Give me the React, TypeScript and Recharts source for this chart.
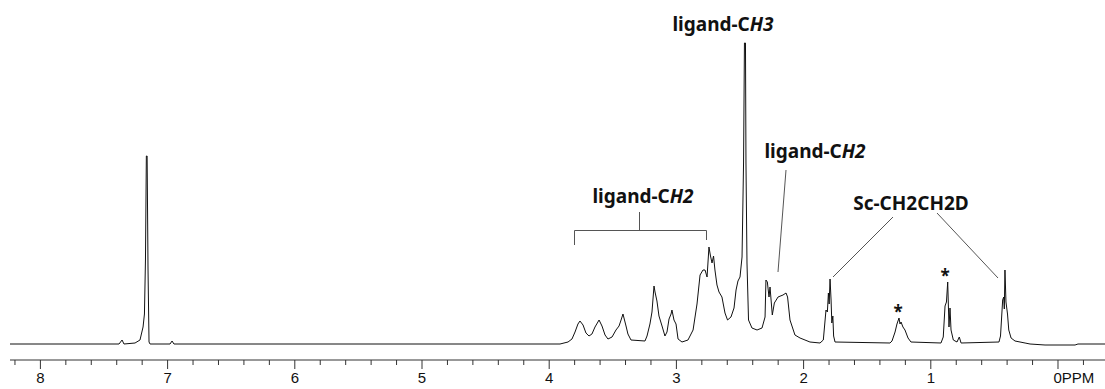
import { LineChart, Line, XAxis, YAxis } from 'recharts';

const benzenePpm = [8.239, 7.382, 7.358, 7.343, 7.256, 7.217, 7.193, 7.182, 7.174, 7.167, 7.161, 7.154, 7.146, 7.138, 6.981, 6.965, 6.95];
const benzeneInt = [0, 0, 4, 0, 1, 4, 17, 30, 84, 188, 188, 76, 2, 0, 0, 3, 0];

const ligandPpm = [
  3.915, 3.852, 3.821, 3.797, 3.774, 3.758, 3.734, 3.711, 3.687, 3.664, 3.64, 3.608, 3.585, 3.561, 3.538,
  3.506, 3.475, 3.451, 3.435, 3.42, 3.412, 3.396, 3.381, 3.357, 3.247, 3.231, 3.208, 3.192, 3.176, 3.168,
  3.153, 3.137, 3.113, 3.09, 3.074, 3.058, 3.042, 3.035, 3.019, 3.003, 2.987, 2.956, 2.909, 2.869, 2.838,
  2.814, 2.791, 2.775, 2.759, 2.744, 2.732, 2.72, 2.708, 2.697, 2.681, 2.665, 2.642, 2.618, 2.598, 2.571,
  2.547, 2.531, 2.516, 2.5, 2.484, 2.472, 2.465, 2.457, 2.453, 2.445, 2.433, 2.406, 2.366, 2.327, 2.303,
  2.296, 2.285, 2.272, 2.264, 2.246, 2.23, 2.201, 2.162, 2.138, 2.126, 2.107, 2.068, 2.028,
];
const ligandInt = [
  0, 2, 5, 12, 20, 23, 19, 11, 8, 10, 17, 24, 18, 9, 5,
  7, 14, 18, 24, 30, 26, 18, 10, 4, 3, 8, 20, 32, 58, 52,
  43, 28, 18, 8, 12, 25, 30, 34, 24, 20, 5, 2, 4, 14, 40,
  69, 74, 74, 67, 97, 88, 81, 88, 74, 59, 52, 47, 31, 24, 27,
  36, 54, 63, 67, 87, 181, 301, 301, 181, 81, 24, 16, 14, 16, 27,
  64, 62, 47, 57, 29, 41, 47, 49, 51, 47, 24, 9, 6,
];

const alkylPpm = [
  1.95, 1.871, 1.845, 1.824, 1.813, 1.805, 1.799, 1.792, 1.784, 1.778, 1.77, 1.764, 1.753,
  1.321, 1.305, 1.281, 1.266, 1.25, 1.242, 1.234, 1.219, 1.203, 1.191, 1.179, 1.156,
  0.92, 0.902, 0.888, 0.877, 0.867, 0.857, 0.849, 0.841, 0.823, 0.794, 0.776, 0.762,
  0.464, 0.452, 0.435, 0.427, 0.422, 0.417, 0.409, 0.403, 0.397, 0.387, 0.369, 0.338,
  0.259, 0.22, 0.102, -0.134, -0.157, -0.37,
];
const alkylInt = [
  2, 1, 4, 34, 32, 51, 40, 65, 44, 21, 28, 8, 2,
  1, 3, 12, 20, 26, 20, 22, 17, 14, 10, 6, 2,
  1, 7, 38, 42, 62, 17, 36, 14, 4, 2, 7, 1,
  2, 8, 44, 47, 35, 74, 42, 36, 30, 14, 6, 3,
  1, 0, -1, -1, 0, 0,
];

const majorTicks = [8, 7, 6, 5, 4, 3, 2, 1, 0];
const majorLabels = ['8', '7', '6', '5', '4', '3', '2', '1', '0PPM'];
const allTicks = [
  8.2, 8, 7.8, 7.6, 7.4, 7.2, 7, 6.8, 6.6, 6.4, 6.2, 6, 5.8, 5.6, 5.4, 5.2, 5, 4.8, 4.6, 4.4, 4.2, 4,
  3.8, 3.6, 3.4, 3.2, 3, 2.8, 2.6, 2.4, 2.2, 2, 1.8, 1.6, 1.4, 1.2, 1, 0.8, 0.6, 0.4, 0.2, 0, -0.2,
];

const ppm = [...benzenePpm, ...ligandPpm, ...alkylPpm];
const intensity = [...benzeneInt, ...ligandInt, ...alkylInt];
const data = ppm.map((p, i) => ({ ppm: p, intensity: intensity[i] }));

const labelFont = '"Noto Sans", "Open Sans", sans-serif';

function PpmTick({ x, y, payload }: any) {
  const idx = majorTicks.indexOf(payload.value);
  const major = idx >= 0;
  const label = major ? majorLabels[idx] : '';
  return (
    <g>
      <line x1={x} y1={y} x2={x} y2={y + (major ? 9 : 5)} stroke="#333" strokeWidth={1} />
      {major && (
        <text
          x={label.length > 1 ? x - 4.5 : x}
          y={y + 23}
          textAnchor={label.length > 1 ? 'start' : 'middle'}
          fontFamily='"Liberation Sans", Arial, sans-serif'
          fontSize={15}
          fill="#111"
        >
          {label}
        </text>
      )}
    </g>
  );
}

export default function App() {
  return (
    <div style={{ position: 'absolute', left: 0, top: 0, width: 1105, height: 389, background: '#fff' }}>
      <LineChart width={1105} height={389} data={data} margin={{ top: 0, right: 0, left: 10, bottom: 0 }}>
        <XAxis
          type="number"
          dataKey="ppm"
          domain={[-0.3695, 8.239]}
          reversed
          allowDataOverflow
          ticks={allTicks}
          interval={0}
          tickSize={0}
          tickMargin={0}
          tick={<PpmTick />}
          axisLine={{ stroke: '#333', strokeWidth: 1 }}
          height={29}
        />
        <YAxis hide type="number" domain={[-16, 344]} allowDataOverflow />
        <Line
          type="linear"
          dataKey="intensity"
          stroke="#111"
          strokeWidth={1}
          dot={false}
          isAnimationActive={false}
        />
      </LineChart>

      {/* peak assignments */}
      <svg
        width={1105}
        height={389}
        style={{ position: 'absolute', left: 0, top: 0, pointerEvents: 'none' }}
      >
        <g stroke="#555" strokeWidth={1} fill="none">
          <path d="M574.5,245 V230.5 H706.5 V240" />
          <path d="M639.5,230.5 V212" />
          <path d="M786,170 L778,272" />
          <path d="M893,217 L833,277" />
          <path d="M937,213 L998,278" />
        </g>
        <g fontFamily={labelFont} fontWeight="bold" fontSize={19} fill="#111" textAnchor="middle">
          <text x={723} y={31}>
            ligand-C<tspan fontStyle="italic">H3</tspan>
          </text>
          <text x={815} y={158}>
            ligand-C<tspan fontStyle="italic">H2</tspan>
          </text>
          <text x={643} y={203}>
            ligand-C<tspan fontStyle="italic">H2</tspan>
          </text>
          <text x={911} y={210}>Sc-CH2CH2D</text>
          <text x={898} y={318} fontSize={17}>*</text>
          <text x={945} y={282} fontSize={17}>*</text>
        </g>
      </svg>
    </div>
  );
}
